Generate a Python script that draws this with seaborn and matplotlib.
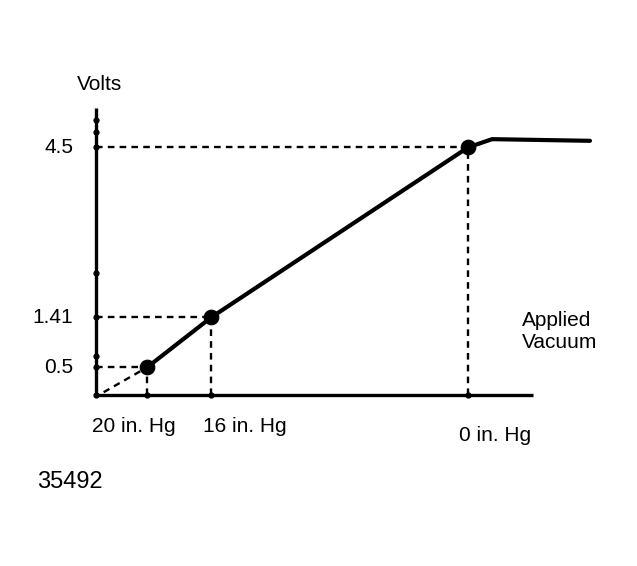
import matplotlib
matplotlib.use("Agg")
import matplotlib.pyplot as plt
import seaborn as sns

# curve: applied vacuum (in. Hg) vs sensor volts
vacuum = [20, 16, 0, -1.5, -7.6]
volts = [0.5, 1.41, 4.5, 4.65, 4.62]

# marked points
pt_vacuum = [20, 16, 0]
pt_volts = [0.5, 1.41, 4.5]
pt_vlabels = ["0.5", "1.41", "4.5"]
pt_hlabels = ["20 in. Hg", "16 in. Hg", "0 in. Hg"]

# small dots along the volts axis
ytick_dots = [0, 0.5, 0.71, 1.41, 2.22, 4.5, 4.78, 5.0]

sns.set_theme(style="white")
plt.rcParams["font.family"] = ["Liberation Sans", "DejaVu Sans"]
plt.rcParams["text.color"] = "black"

fig = plt.figure(figsize=(6.37, 5.66), dpi=100)
ax = fig.add_axes([0, 0, 1, 1])
ax.set_xlim(29.16, -10.53)
ax.set_ylim(-3.11, 7.18)
ax.axis("off")

x0 = 23.2  # where the volts axis sits
# axes
ax.plot([x0, x0], [0, 5.22], color="black", lw=2.4, solid_capstyle="butt")
ax.plot([x0, -4.05], [0, 0], color="black", lw=2.4, solid_capstyle="butt")
ax.plot([x0] * len(ytick_dots), ytick_dots, "o", color="black", ms=3.5)
ax.plot(pt_vacuum, [0] * len(pt_vacuum), "o", color="black", ms=3.5)

# dashed guide lines
dash = dict(color="black", lw=1.7, dashes=(2.8, 2.2))
for xv, yv in zip(pt_vacuum, pt_volts):
    ax.plot([x0, xv], [yv, yv], **dash)
    ax.plot([xv, xv], [0, yv], **dash)
ax.plot([22.7, 20], [0.05, 0.5], **dash)

# main curve and points
sns.lineplot(x=vacuum, y=volts, sort=False, color="black", lw=3.0, ax=ax)
sns.scatterplot(x=pt_vacuum, y=pt_volts, color="black", s=110, edgecolor="black", ax=ax, zorder=5)

# text
fs = 15
ax.text(22.93, 5.65, "Volts", ha="center", va="center", fontsize=fs)
for yv, lab in zip(pt_volts, pt_vlabels):
    ax.text(24.61, yv, lab, ha="right", va="center", fontsize=fs)
for xl, yl, lab in zip([23.43, 16.51, 0.56], [-0.58, -0.58, -0.73], pt_hlabels):
    ax.text(xl, yl, lab, ha="left", va="center", fontsize=fs)
ax.text(-3.36, 1.36, "Applied", ha="left", va="center", fontsize=fs)
ax.text(-3.36, 0.96, "Vacuum", ha="left", va="center", fontsize=fs)
ax.text(26.85, -1.58, "35492", ha="left", va="center", fontsize=17)

fig.savefig("out.png", dpi=100, facecolor="white")
